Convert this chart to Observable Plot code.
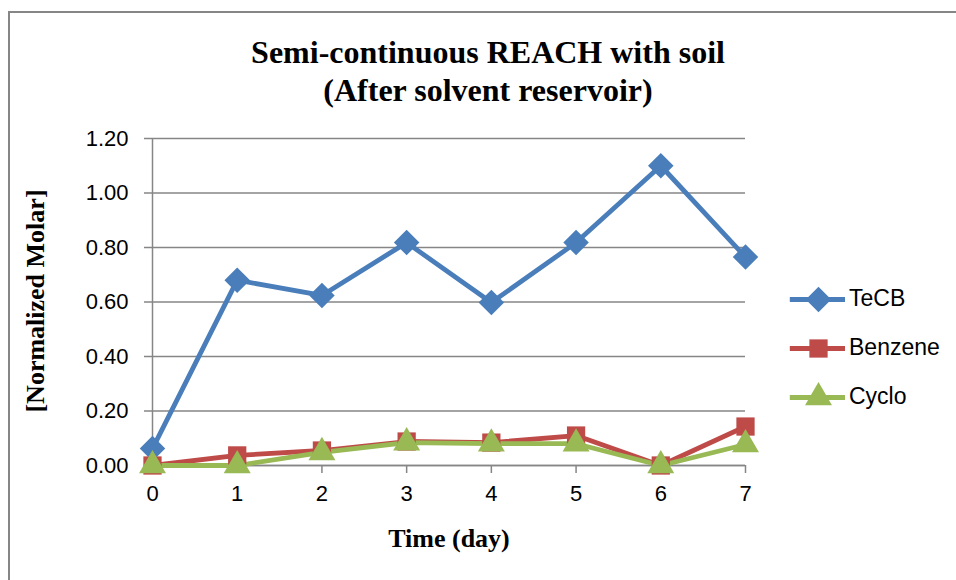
<!DOCTYPE html>
<html>
<head>
<meta charset="utf-8">
<script src="https://cdn.jsdelivr.net/npm/d3@7"></script>
<script src="https://cdn.jsdelivr.net/npm/@observablehq/plot@0.6"></script>
<style>
  html, body { margin: 0; padding: 0; background: #fff; }
  #wrap { position: relative; width: 956px; height: 580px; overflow: hidden; background: #fff; }
  #border { position: absolute; left: 8px; top: 11px; width: 1000px; height: 1000px; border-left: 2px solid #868686; border-top: 2px solid #868686; }
  .title { position: absolute; left: 0; width: 976px; text-align: center; font-family: "Liberation Serif", serif; font-weight: bold; font-size: 32px; line-height: 38px; color: #000; }
  .xlabel { position: absolute; top: 524px; left: 374px; width: 150px; text-align: center; font-family: "Liberation Serif", serif; font-weight: bold; font-size: 26px; line-height: 30px; }
  .ylabel { position: absolute; left: 36px; top: 301px; transform: translate(-50%, -50%) rotate(-90deg); white-space: nowrap; font-family: "Liberation Serif", serif; font-weight: bold; font-size: 26px; }
  #chart { position: absolute; left: 0; top: 0; }
  #legend { position: absolute; left: 788px; top: 274px; font-family: "Liberation Sans", sans-serif; font-size: 23px; }
  .item { display: flex; align-items: center; height: 49px; }
  .item span { margin-left: 1px; }
</style>
</head>
<body>
<div id="wrap">
  <div id="border"></div>
  <div class="title" style="top:33px">Semi-continuous REACH with soil</div>
  <div class="title" style="top:71px">(After solvent reservoir)</div>
  <div class="ylabel">[Normalized Molar]</div>
  <div class="xlabel">Time (day)</div>
  <div id="chart"></div>
  <div id="legend"></div>
</div>
<script>
const days = [0, 1, 2, 3, 4, 5, 6, 7];
const seriesNames = ["TeCB", "Benzene", "Cyclo"];
const tecb = [0.062, 0.68, 0.624, 0.818, 0.598, 0.818, 1.10, 0.765];
const benzene = [0.0, 0.037, 0.055, 0.088, 0.084, 0.11, 0.0, 0.143];
const cyclo = [0.0, 0.0, 0.048, 0.084, 0.08, 0.08, 0.0, 0.077];
const yTicks = [0, 0.2, 0.4, 0.6, 0.8, 1.0, 1.2];

const colors = {TeCB: "#4A7EBB", Benzene: "#BE4B48", Cyclo: "#98B954"};
const symbols = {TeCB: "diamond2", Benzene: "square", Cyclo: "triangle"};
const sizes = {TeCB: 11.5, Benzene: 10.3, Cyclo: 10};

const valuesBy = {TeCB: tecb, Benzene: benzene, Cyclo: cyclo};
const rows = seriesNames.flatMap(s => days.map((d, i) => ({series: s, day: d, value: valuesBy[s][i]})));

const marks = [
  Plot.gridY(yTicks, {stroke: "#868686", strokeOpacity: 1, strokeWidth: 1.5, x1: 0, x2: 7}),
  Plot.axisY(yTicks, {tickFormat: d => d.toFixed(2), tickSize: 8, tickPadding: 16, stroke: "#868686", strokeWidth: 1.5, label: null, fontSize: 22, fill: "#000"}),
  Plot.axisX(days, {tickSize: 8, tickPadding: 12, stroke: "#868686", strokeWidth: 1.5, label: null, fontSize: 22, fill: "#000"}),
  Plot.ruleX([0], {y1: 0, y2: 1.2, stroke: "#868686", strokeWidth: 1.5}),
  Plot.ruleY([0], {stroke: "#868686", strokeWidth: 1.5}),
];
for (const s of seriesNames) {
  const data = rows.filter(r => r.series === s);
  marks.push(Plot.line(data, {x: "day", y: "value", stroke: colors[s], strokeWidth: 4.8}));
}
for (const s of seriesNames) {
  const data = rows.filter(r => r.series === s);
  marks.push(Plot.dot(data, {x: "day", y: "value", symbol: () => symbols[s], fill: colors[s], r: sizes[s], stroke: "none"}));
}

const chart = Plot.plot({
  width: 956,
  height: 580,
  marginLeft: 152,
  marginRight: 211,
  marginTop: 138,
  marginBottom: 115,
  style: {fontFamily: "Liberation Sans, sans-serif", background: "transparent", overflow: "visible"},
  x: {domain: [0, 7], axis: null},
  y: {domain: [0, 1.2], axis: null},
  symbol: {type: "identity"},
  marks
});
document.getElementById("chart").appendChild(chart);

// legend
const legend = document.getElementById("legend");
for (const s of seriesNames) {
  const item = document.createElement("div");
  item.className = "item";
  const sw = Plot.plot({
    width: 60, height: 30, margin: 0,
    x: {domain: [0, 1], axis: null}, y: {domain: [0, 1], axis: null},
    symbol: {type: "identity"},
    style: {background: "transparent", overflow: "visible"},
    marks: [
      Plot.ruleY([0.5], {x1: 0.03, x2: 0.95, stroke: colors[s], strokeWidth: 4.8}),
      Plot.dot([{x: 0.5, y: 0.5}], {x: "x", y: "y", symbol: () => symbols[s], fill: colors[s], r: sizes[s], stroke: "none"})
    ]
  });
  item.appendChild(sw);
  const label = document.createElement("span");
  label.textContent = s;
  item.appendChild(label);
  legend.appendChild(item);
}
</script>
</body>
</html>
